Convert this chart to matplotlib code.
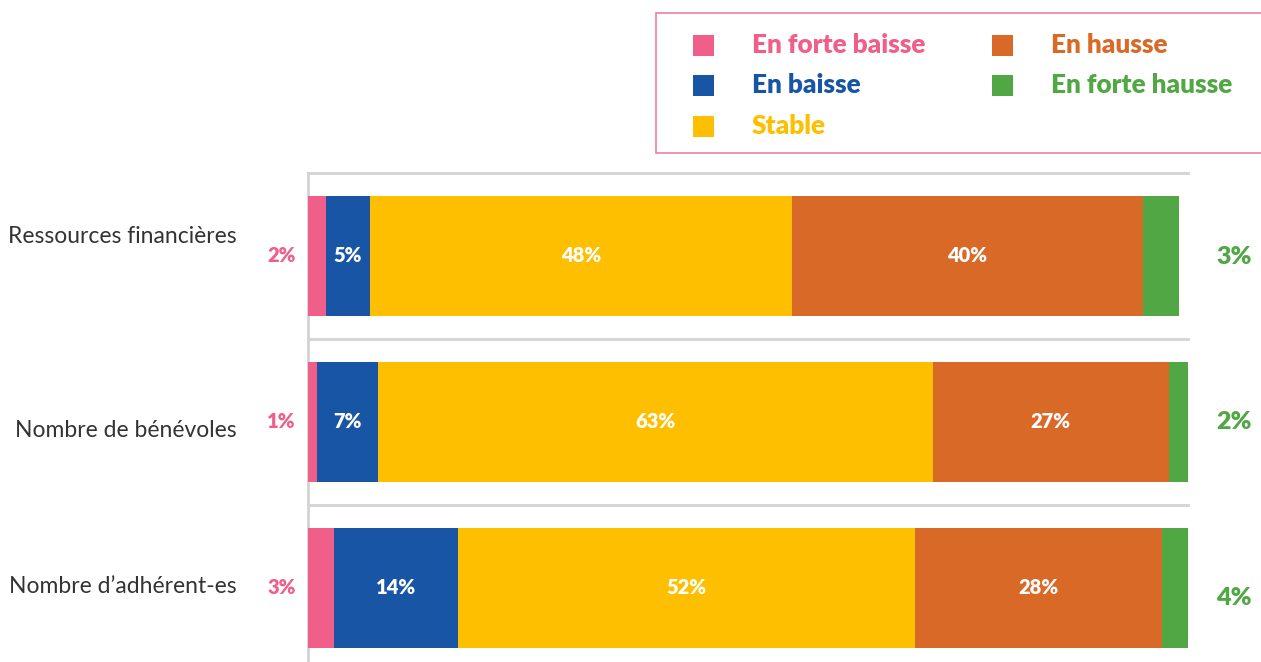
import matplotlib.pyplot as plt
from matplotlib.patches import Rectangle

plt.rcParams['font.family'] = ['Lato', 'DejaVu Sans']

categories = ["Ressources financières", "Nombre de bénévoles", "Nombre d’adhérent-es"]
series_names = ["En forte baisse", "En baisse", "Stable", "En hausse", "En forte hausse"]
colors = ["#EF5F8A", "#1855A5", "#FDBF00", "#D96927", "#52A745"]

# segment widths (percent)
forte_baisse = [2.0, 1.0, 3.0]
baisse = [5.0, 7.0, 14.1]
stable = [48.0, 63.0, 51.9]
hausse = [39.9, 26.8, 28.0]
forte_hausse = [4.1, 2.2, 3.0]

# printed labels
lbl_forte_baisse = ["2%", "1%", "3%"]
lbl_baisse = ["5%", "7%", "14%"]
lbl_stable = ["48%", "63%", "52%"]
lbl_hausse = ["40%", "27%", "28%"]
lbl_forte_hausse = ["3%", "2%", "4%"]

series = [forte_baisse, baisse, stable, hausse, forte_hausse]
inner_labels = [None, lbl_baisse, lbl_stable, lbl_hausse, None]

W, H = 1261, 662
PX = 0.72  # points per pixel at dpi 100
fig = plt.figure(figsize=(W / 100, H / 100), dpi=100)
ax = fig.add_axes([308 / W, 0, 880 / W, 489 / H])

y = list(range(len(categories)))
left = [0.0] * len(categories)
for vals, col, labs in zip(series, colors, inner_labels):
    bars = ax.barh(y, vals, left=left, height=0.72, color=col, zorder=3)
    if labs:
        for i, b in enumerate(bars):
            ax.text(b.get_x() + b.get_width() / 2, y[i], labs[i], ha='center', va='center',
                    color='white', fontsize=14.5, fontweight='heavy', zorder=4)
    left = [l + v for l, v in zip(left, vals)]

# small offsets (pixels) as in the original layout
cat_dy = [-19, 9, -1]
green_dy = [1, 0, 10]
for i in range(len(categories)):
    ax.annotate(categories[i], (0, y[i]), xytext=(-71 * PX, -cat_dy[i] * PX),
                textcoords='offset points', ha='right', va='center',
                fontsize=16.5, color='#333333', annotation_clip=False)
    ax.text(-1.4, y[i], lbl_forte_baisse[i], ha='right', va='center',
            color=colors[0], fontsize=14.5, fontweight='heavy', clip_on=False)
    ax.annotate(lbl_forte_hausse[i], (105.2, y[i]), xytext=(0, -green_dy[i] * PX),
                textcoords='offset points', ha='center', va='center',
                color=colors[4], fontsize=18, fontweight='heavy', annotation_clip=False)

ax.set_xlim(0, 100)
ax.set_ylim(2.446, -0.5)
ax.set_yticks([])
ax.set_xticks([])
for s in ['top', 'right', 'bottom']:
    ax.spines[s].set_visible(False)
ax.spines['left'].set_color('#D3D3D3')
ax.spines['left'].set_linewidth(2)
for yl in [-0.5, 0.5, 1.5]:
    ax.axhline(yl, color='#D3D3D3', linewidth=2, zorder=1, clip_on=False)

# legend box drawn by hand
fig.patches.append(Rectangle((656 / W, 1 - 153 / H), 610 / W, 140 / H, transform=fig.transFigure,
                             facecolor='white', edgecolor='#EF7FA0', linewidth=1.2))
leg_x = [693, 992]
leg_rows = [45, 85, 126]
for k, (name, col) in enumerate(zip(series_names, colors)):
    cx = leg_x[0] if k < 3 else leg_x[1]
    cy = leg_rows[k] if k < 3 else leg_rows[k - 3]
    fig.patches.append(Rectangle((cx / W, 1 - (cy + 11) / H), 21 / W, 21 / H,
                                 transform=fig.transFigure, facecolor=col, edgecolor='none'))
    fig.text((cx + 59) / W, 1 - cy / H, name, ha='left', va='center', color=col,
             fontsize=18.8, fontweight='heavy')

fig.savefig("out.png", dpi=100)
